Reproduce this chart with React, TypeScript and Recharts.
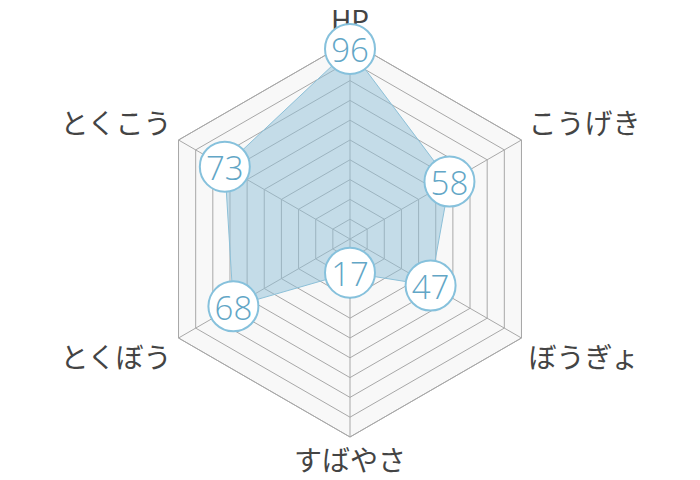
import { RadarChart, Radar, PolarGrid, PolarAngleAxis, PolarRadiusAxis } from "recharts"

const subjects = ["HP", "こうげき", "ぼうぎょ", "すばやさ", "とくぼう", "とくこう"]
const stats = [96, 58, 47, 17, 68, 73]
const radiusTicks = [0, 10, 20, 30, 40, 50, 60, 70, 80, 90, 100]

const data = subjects.map((subject, i) => ({ subject, value: stats[i] }))

const FONT = '"Noto Sans CJK JP", "Noto Sans", sans-serif'
const CX = 350
const CY = 239

function AngleTick(props: any) {
  const { x, y, payload, textAnchor } = props
  let dy = 0
  if (y < CY - 20) dy = -14
  else if (y > CY + 20) dy = 14
  return (
    <text
      x={x}
      y={y + dy}
      textAnchor={textAnchor}
      dominantBaseline="central"
      fontSize={28}
      fontFamily={FONT}
      fill="#444"
    >
      {payload.value}
    </text>
  )
}

function ValueDot(props: any) {
  const { cx, cy, payload } = props
  return (
    <g>
      <circle cx={cx} cy={cy} r={25} fill="#fff" stroke="#86c1dc" strokeWidth={2} />
      <text
        x={cx}
        y={cy + 1}
        textAnchor="middle"
        dominantBaseline="central"
        fontSize={33}
        fontFamily='"Open Sans", "Noto Sans", sans-serif'
        fontWeight={300}
        fill="#62a6c6"
      >
        {payload.value}
      </text>
    </g>
  )
}

export default function App() {
  return (
    <div style={{ position: "fixed", left: 0, top: 0, width: 700, height: 480, background: "#fff" }}>
      <RadarChart width={700} height={480} data={data} cx={CX} cy={CY} outerRadius={198}>
        <PolarGrid gridType="polygon" stroke="#a8a8a8" strokeWidth={1} fill="#f8f8f8" fillOpacity={1} />
        <PolarRadiusAxis domain={[0, 100]} ticks={radiusTicks as any} tickCount={11} axisLine={false} tick={false} />
        <PolarAngleAxis dataKey="subject" tick={<AngleTick />} tickLine={false} axisLine={false} />
        <Radar
          dataKey="value"
          stroke="#8cc0d8"
          strokeWidth={1}
          fill="#8fc0d8"
          fillOpacity={0.5}
          dot={<ValueDot />}
          isAnimationActive={false}
        />
      </RadarChart>
    </div>
  )
}
